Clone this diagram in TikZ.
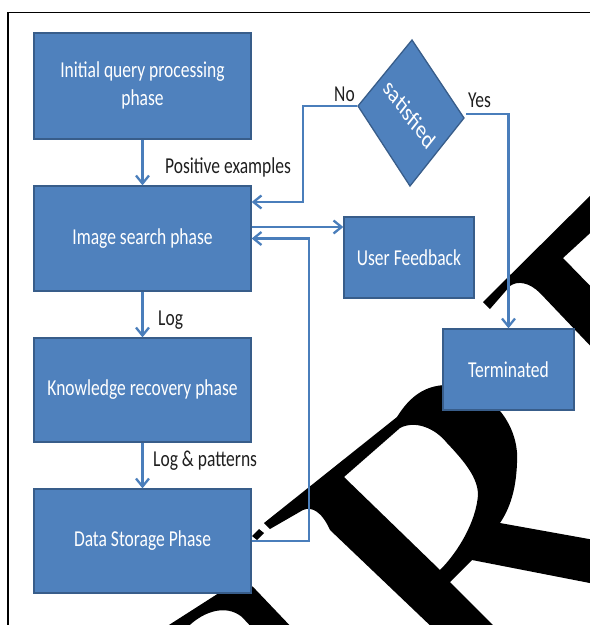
\documentclass[tikz,border=0pt]{standalone}
\usepackage{fontspec}
\setmainfont{Carlito}
\usetikzlibrary{arrows.meta,calc}
\definecolor{boxfill}{HTML}{4F81BD}
\definecolor{boxline}{HTML}{385D8A}
\definecolor{connc}{HTML}{4A7EBB}
\newcommand{\vtxt}[1]{\scalebox{1}[1.3]{#1}}
\begin{document}
\begin{tikzpicture}[x=1pt,y=-1pt,
  phase/.style={draw=boxline, line width=1.3pt, fill=boxfill, text=white, inner sep=0pt,
    font=\fontsize{17.5}{21.5}\selectfont, align=center},
  conn/.style={draw=connc, line width=2.3pt},
  arr/.style={conn, -{Straight Barb[length=8pt,width=13pt]}},
  lbl/.style={font=\fontsize{17.5}{21.5}\selectfont, text=black!88, inner sep=0pt},
  wm/.style={fill=black, draw=none}]
\useasboundingbox (0,0) rectangle (590,625);
% watermark fragments
\fill[wm, even odd rule]
  (264,523) -- (397,417) .. controls (410,396) and (425,386) .. (445,385)
  .. controls (490,385) and (520,425) .. (517,463)
  .. controls (516,490) and (510,508) .. (500,523)
  -- (600,541) -- (600,585) -- (472,560) -- (450,582) -- (500,632) -- (437,632)
  -- (330,530) .. controls (322,512) and (312,506) .. (303,510) -- (270,529) -- cycle
  (344,477) -- (400,428) .. controls (415,420) and (435,428) .. (447,443)
  .. controls (465,462) and (478,478) .. (478,495)
  .. controls (476,522) and (458,552) .. (440,570) -- cycle;
\fill[wm] (252,536) -- (259,529) -- (264,533) -- (257,540) -- cycle;
\fill[wm, even odd rule] (158,632) -- (233,584) .. controls (242,580) and (250,583) .. (256,590)
  -- (296,632) -- cycle
  (183,632) .. controls (200,612) and (225,603) .. (242,617) -- (256,632) -- cycle;
\fill[wm] (483,302) -- (600,186) -- (600,224) -- (563,258) -- (600,296) -- (600,356)
  -- (540,293) .. controls (530,283) and (518,280) .. (510,286) -- (490,309) -- cycle;
% frame
\draw[line width=1.5pt] (8,640) -- (8,12.5) -- (600,12.5);
% boxes
\node[phase, minimum width=217pt, minimum height=106pt] (b1) at (142.5,86)
  {\vtxt{\begin{tabular}{@{}c@{}}Initial query processing\\phase\end{tabular}}};
\node[phase, minimum width=217pt, minimum height=105pt] (b2) at (142.5,238.5)
  {\vtxt{Image search phase}};
\node[phase, minimum width=217pt, minimum height=104pt] (b3) at (142.5,390)
  {\vtxt{Knowledge recovery phase}};
\node[phase, minimum width=217pt, minimum height=104pt] (b4) at (142.5,541)
  {\vtxt{Data Storage Phase}};
\node[phase, minimum width=130pt, minimum height=81pt] (uf) at (409,257.5)
  {\vtxt{User Feedback}};
\node[phase, minimum width=131pt, minimum height=81pt] (term) at (508.5,369.5)
  {\vtxt{Terminated}};
% decision
\draw[draw=boxline, line width=1.3pt, fill=boxfill] (358,106) -- (412,40) -- (464,118) -- (410,186) -- cycle;
\coordinate (dl) at (357,106);
\coordinate (dr) at (466,114);
\begin{scope}[shift={(410,114)}, yscale=1.3]
  \node[rotate=-46, transform shape, text=white, inner sep=0pt,
    font=\fontsize{19.5}{19.5}\selectfont] (sat) at (0,0) {satisfied};
\end{scope}
% connectors
\draw[arr] (b1.south) -- (b2.north);
\draw[arr] (b2.south) -- (b3.north);
\draw[arr] (b3.south) -- (b4.north);
\draw[arr] (dl) -- ++(-54,0) |- ([yshift=36.5pt]b2.east);
\draw[arr] (dr) -| (term.north);
\draw[arr] ([yshift=11.5pt]b2.east) -- ([yshift=30.5pt]uf.west);
\draw[arr] (b4.east) -- ++(57,0) |- (b2.east);
% labels
\node[lbl, anchor=base west] (pe) at (165,173) {\vtxt{Positive examples}};
\node[lbl, anchor=base west] (lg) at (158,325) {\vtxt{Log}};
\node[lbl, anchor=base west] (lp) at (153,466) {\vtxt{Log \& patterns}};
\node[lbl, anchor=base west] (no) at (334,101) {\vtxt{No}};
\node[lbl, anchor=base west] (yes) at (468,107) {\vtxt{Yes}};
\end{tikzpicture}
\end{document}
